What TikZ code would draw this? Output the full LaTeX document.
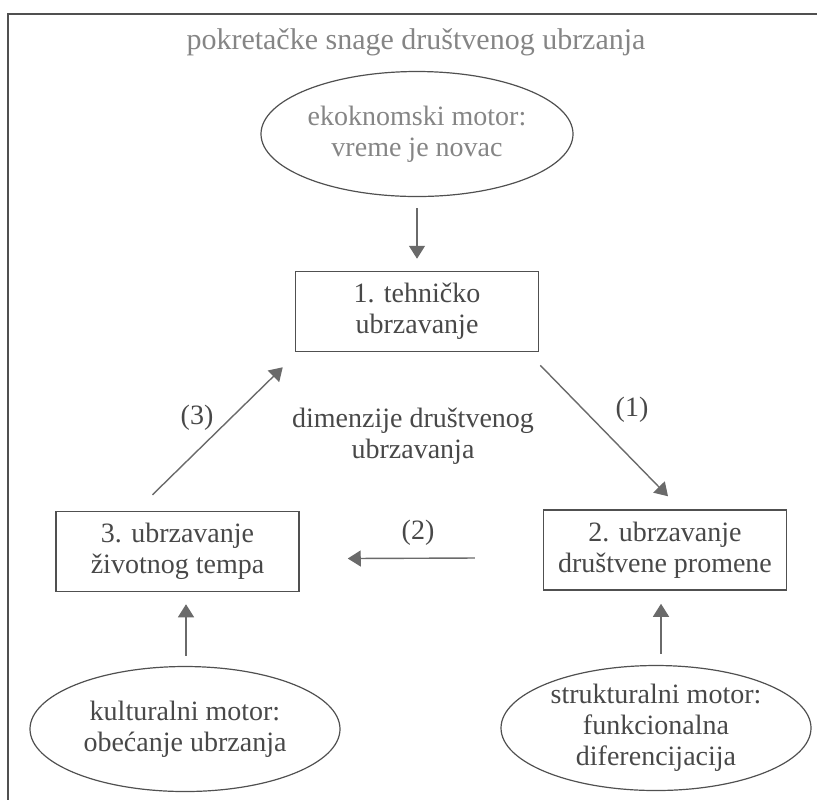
\documentclass[tikz,border=0pt]{standalone}
\usepackage{fontspec}
\setmainfont{Liberation Serif}
\usepackage{xcolor}
\usetikzlibrary{shapes.geometric}
\usetikzlibrary{arrows.meta}
\definecolor{framegray}{HTML}{505050}
\definecolor{titlegray}{HTML}{858585}
\definecolor{textgray}{HTML}{484848}
\definecolor{arrowgray}{HTML}{6A6A6A}

\begin{document}
\begin{tikzpicture}[x=0.5pt,y=-0.5pt,
    txt/.style={text=textgray,align=center,font=\fontsize{14}{15.5}\selectfont},
    box/.style={txt,draw=framegray,line width=0.75pt,minimum width=121.5pt,minimum height=40pt,inner sep=0pt},
    motor/.style={txt,ellipse,draw=framegray,line width=0.6pt,minimum width=155pt,minimum height=62.5pt,inner sep=0pt},
    arr/.style={draw=arrowgray,line width=0.7pt,-{Triangle[length=6.5pt,width=8pt]}}]
      \useasboundingbox (0,0) rectangle (817,800);
      \draw[framegray,line width=1pt] (817,14) -- (8,14) -- (8,800);
      \node[text=titlegray,font=\fontsize{15}{18}\selectfont] (title) at (416,42) {pokretačke snage društvenog ubrzanja};
      \node[motor,text=titlegray,minimum width=156pt] (eco) at (417,134) {ekoknomski motor:\\vreme je novac};
      \node[box] (tech) at (417,311.5) {1. tehničko\\ubrzavanje};
      \node[txt] (dims) at (413,436) {dimenzije društvenog\\ubrzavanja};
      \node[box] (life) at (177.5,551.5) {3. ubrzavanje\\životnog tempa};
      \node[box] (social) at (665,550) {2. ubrzavanje\\društvene promene};
      \node[motor] (cult) at (185,729) {kulturalni motor:\\obećanje ubrzanja};
      \node[motor] (struct) at (656,728) {strukturalni motor:\\funkcionalna\\diferencijacija};
      \node[txt] (lab1) at (632,410) {(1)};
      \node[txt] (lab2) at (418,533) {(2)};
      \node[txt] (lab3) at (197,418) {(3)};
      \draw[arr,shorten <=5.5pt,shorten >=6pt] (eco.south) -- (eco.south |- tech.north);
      \draw[arr] ([shift={(0.5pt,-6.5pt)}]tech.south east) -- ([shift={(1.5pt,6.5pt)}]social.north);
      \draw[arr] ([shift={(-34pt,-4pt)}]social.west) -- ([shift={(24pt,-3.5pt)}]life.east);
      \draw[arr] ([shift={(-12.5pt,8pt)}]life.north) -- ([shift={(-6pt,-7.5pt)}]tech.south west);
      \draw[arr,shorten <=5pt,shorten >=6pt] ([xshift=0.5pt]cult.north) -- ([xshift=0.5pt]cult.north |- life.south);
      \draw[arr,shorten <=5.5pt,shorten >=6.5pt] ([xshift=2.5pt]struct.north) -- ([xshift=2.5pt]struct.north |- social.south);
\end{tikzpicture}
\end{document}
